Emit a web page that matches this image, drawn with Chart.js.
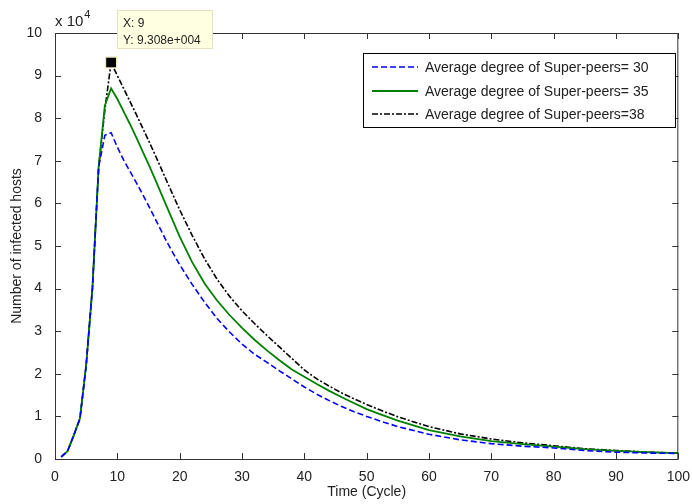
<!DOCTYPE html>
<html><head><meta charset="utf-8">
<script src="https://cdn.jsdelivr.net/npm/chart.js@4.4.0/dist/chart.umd.min.js"></script>
<style>html,body{margin:0;padding:0;background:#fff}canvas{display:block}</style>
</head><body>
<canvas id="c" width="692" height="504"></canvas>
<script>
// ---- data ----
const time = [1,2,3,4,5,6,7,8,9,10,11,12,13,14,15,16,18,20,22,24,26,28,30,32,34,36,38,40,42,44,46,48,50,52,55,60,65,70,75,80,85,90,95,100];
const degree30 = [500,1800,5500,9500,22000,40000,68500,76000,76600,73200,70200,67600,65000,62300,59500,56600,50800,45600,41000,36800,33000,29800,27000,24600,22700,20700,18800,16900,15200,13700,12300,11100,10000,9000,7600,5800,4500,3600,3000,2600,2000,1600,1400,1300];
const degree35 = [500,1800,5500,9500,22000,40000,68500,83000,87000,84500,81600,78700,75600,72400,69200,65900,59000,52200,46200,41200,37200,33800,30800,28000,25500,23200,21000,19300,17600,16000,14500,13100,11700,10600,9000,6800,5300,4200,3500,2900,2300,1900,1600,1400];
const degree38 = [500,1800,5500,9500,22000,40000,68500,82000,93080,90000,87000,84000,81000,77900,74800,71600,65000,58500,52500,47000,42200,38200,34800,31800,29000,26300,23600,20900,18800,17100,15500,14100,12800,11600,9900,7600,5900,4700,3800,3100,2400,2000,1600,1400];
const seriesLabels = ['Average degree of Super-peers= 30','Average degree of Super-peers= 35','Average degree of Super-peers=38'];
const xTickValues = [0,10,20,30,40,50,60,70,80,90,100];
const yTickValues = [0,10000,20000,30000,40000,50000,60000,70000,80000,90000,100000];
const yScaleFactor = 10000;
const tipX = 9, tipY = 93080;

const TXT = '#222';
const FONT = 'Liberation Sans, Arial, sans-serif';

function matlabExp(v){
  const [m,e] = v.toExponential(3).split('e');
  const sign = e[0]==='-' ? '-' : '+';
  const n = String(Math.abs(parseInt(e,10))).padStart(3,'0');
  return m + 'e' + sign + n;
}

const decor = {
  id:'decor',
  afterDatasetsDraw(chart){
    const {ctx, chartArea:{left,right,top,bottom}, scales:{x,y}} = chart;
    ctx.save();
    // frame
    ctx.strokeStyle = '#333'; ctx.lineWidth = 1;
    ctx.strokeRect(left+0.5, top+0.5, right-left-1, bottom-top);
    // inward ticks on all sides
    const tl = 6;
    ctx.beginPath();
    xTickValues.forEach(v=>{
      const px = Math.round(x.getPixelForValue(v))+0.5;
      ctx.moveTo(px,bottom); ctx.lineTo(px,bottom-tl);
      ctx.moveTo(px,top); ctx.lineTo(px,top+tl);
    });
    yTickValues.forEach(v=>{
      const py = Math.round(y.getPixelForValue(v))+0.5;
      ctx.moveTo(left,py); ctx.lineTo(left+tl,py);
      ctx.moveTo(right,py); ctx.lineTo(right-tl,py);
    });
    ctx.stroke();

    // exponent label
    ctx.fillStyle = TXT;
    ctx.textBaseline = 'alphabetic'; ctx.textAlign = 'left';
    ctx.font = '15px ' + FONT;
    ctx.fillText('x 10', left, 26);
    const w = ctx.measureText('x 10').width;
    ctx.font = '11px ' + FONT;
    ctx.fillText(String(Math.log10(yScaleFactor)), left + w + 1, 18);

    // legend
    const lx = 363, ly = 53, lw = 312, lh = 74;
    ctx.fillStyle = '#fff';
    ctx.fillRect(lx, ly, lw, lh);
    ctx.strokeStyle = '#000'; ctx.lineWidth = 1;
    ctx.strokeRect(lx+0.5, ly+0.5, lw, lh);
    const rows = [67, 91, 114];
    chart.data.datasets.forEach((ds,i)=>{
      const ry = rows[i];
      ctx.save();
      ctx.strokeStyle = ds.borderColor;
      ctx.lineWidth = ds.borderWidth;
      ctx.setLineDash(ds.borderDash || []);
      ctx.beginPath(); ctx.moveTo(372, ry); ctx.lineTo(418, ry); ctx.stroke();
      ctx.restore();
      ctx.fillStyle = TXT;
      ctx.font = '14px ' + FONT;
      ctx.textBaseline = 'middle';
      ctx.fillText(ds.label, 425, ry+1);
    });

    // data tip
    const px = x.getPixelForValue(tipX), py = y.getPixelForValue(tipY);
    ctx.fillStyle = '#000';
    ctx.fillRect(px-5, py-5, 10, 10);
    ctx.strokeStyle = '#e8e2b0'; ctx.lineWidth = 1;
    ctx.strokeRect(px-5.5, py-5.5, 11, 11);
    const bx = Math.round(px)+6, by = 10, bw = 95, bh = 38;
    ctx.fillStyle = '#ffffe1';
    ctx.fillRect(bx, by, bw, bh);
    ctx.strokeStyle = '#e6e2c0';
    ctx.strokeRect(bx+0.5, by+0.5, bw, bh);
    ctx.fillStyle = '#222';
    ctx.font = '12px ' + FONT;
    ctx.textBaseline = 'middle';
    ctx.fillText('X: ' + tipX, bx+6, by+14);
    ctx.fillText('Y: ' + matlabExp(tipY), bx+6, by+31);
    ctx.restore();
  }
};

const mk = arr => time.map((t,i)=>({x:t, y:arr[i]}));

new Chart(document.getElementById('c'), {
  type:'line',
  data:{ datasets:[
    {label:seriesLabels[0], data:mk(degree30), borderColor:'#0000ff', borderWidth:1.6, borderDash:[6,3]},
    {label:seriesLabels[1], data:mk(degree35), borderColor:'#008000', borderWidth:1.8},
    {label:seriesLabels[2], data:mk(degree38), borderColor:'#000000', borderWidth:1.6, borderDash:[6,2,2,2]}
  ]},
  options:{
    responsive:false, animation:false, devicePixelRatio:1,
    layout:{padding:{left:0, top:33, right:12, bottom:0}},
    elements:{point:{radius:0, hoverRadius:0}, line:{tension:0, fill:false}},
    plugins:{legend:{display:false}, tooltip:{enabled:false}},
    scales:{
      x:{type:'linear', min:0, max:100,
        afterBuildTicks(s){ s.ticks = xTickValues.map(v=>({value:v})); },
        afterFit(s){ s.height = 45; },
        grid:{display:false}, border:{display:false},
        ticks:{color:TXT, font:{family:FONT, size:14}, padding:2, maxRotation:0},
        title:{display:true, text:'Time (Cycle)', color:TXT, font:{family:FONT, size:14}, padding:{top:0, bottom:3}}
      },
      y:{type:'linear', min:0, max:100000,
        afterBuildTicks(s){ s.ticks = yTickValues.map(v=>({value:v})); },
        afterFit(s){ s.width = 55; },
        grid:{display:false}, border:{display:false},
        ticks:{color:TXT, font:{family:FONT, size:14}, padding:5, callback:v=>v/yScaleFactor},
        title:{display:true, text:'Number of infected hosts', color:TXT, font:{family:FONT, size:14}, padding:{top:9, bottom:0}}
      }
    }
  },
  plugins:[decor]
});
</script>
</body></html>
